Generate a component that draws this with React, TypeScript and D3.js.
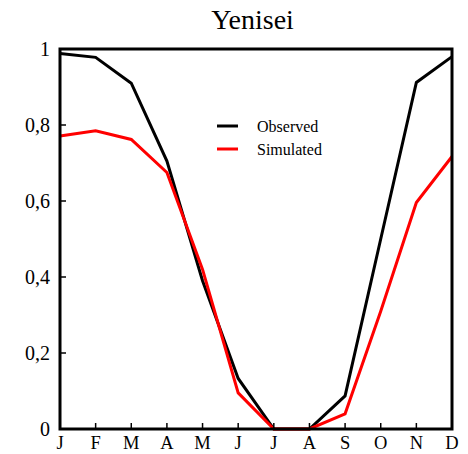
import React from "react";
import * as d3 from "d3";

const months = ["J", "F", "M", "A", "M", "J", "J", "A", "S", "O", "N", "D"];
const observed = [0.988, 0.978, 0.91, 0.705, 0.39, 0.133, 0, 0, 0.087, 0.5, 0.912, 0.98];
const simulated = [0.771, 0.785, 0.762, 0.675, 0.42, 0.095, 0, 0, 0.04, 0.31, 0.596, 0.717];
const yTicks = [0, 0.2, 0.4, 0.6, 0.8, 1];
const yTickLabels = ["0", "0,2", "0,4", "0,6", "0,8", "1"];
const title = "Yenisei";
const seriesNames = ["Observed", "Simulated"];
const seriesColors = ["#000000", "#ff0000"];

export default function App() {
  const W = 468, H = 454;
  const left = 60, right = 452, top = 49, bottom = 429;
  const x = d3.scaleLinear().domain([0, 11]).range([left, right]);
  const y = d3.scaleLinear().domain([0, 1]).range([bottom, top]);
  const line = d3.line<number>().x((_, i) => x(i)).y((d) => y(d));
  const font = "Liberation Serif, Times New Roman, Times, serif";
  const series = [observed, simulated];

  return (
    <svg width={W} height={H} style={{ position: "absolute", left: 0, top: 0, background: "#fff", fontFamily: font }}>
      <rect x={0} y={0} width={W} height={H} fill="#fff" />
      <text x={252.5} y={29} textAnchor="middle" style={{ fontFamily: font }} fontSize={28} fill="#000">
        {title}
      </text>
      {series.map((s, k) => (
        <path key={k} d={line(s) || ""} fill="none" stroke={seriesColors[k]} strokeWidth={3} strokeLinejoin="miter" />
      ))}
      {months.map((m, i) => (
        <g key={i}>
          {i > 0 && i < 11 && (
            <line x1={x(i)} x2={x(i)} y1={bottom} y2={bottom - 6} stroke="#000" strokeWidth={1.5} />
          )}
          <text x={x(i)} y={449} textAnchor="middle" style={{ fontFamily: font }} fontSize={18.5} fill="#000">
            {m}
          </text>
        </g>
      ))}
      {yTicks.map((t, i) => (
        <g key={i}>
          {i > 0 && i < yTicks.length - 1 && (
            <line x1={left} x2={left + 6} y1={y(t)} y2={y(t)} stroke="#000" strokeWidth={1.5} />
          )}
          <text x={50} y={y(t)} dy="0.35em" textAnchor="end" style={{ fontFamily: font }} fontSize={20} fill="#000">
            {yTickLabels[i]}
          </text>
        </g>
      ))}
      <rect x={left} y={top} width={right - left} height={bottom - top} fill="none" stroke="#000" strokeWidth={3} />
      {seriesNames.map((n, k) => (
        <g key={n}>
          <line x1={217} x2={238} y1={126 + k * 23} y2={126 + k * 23} stroke={seriesColors[k]} strokeWidth={3} />
          <text x={257} y={126 + k * 23} dy="0.35em" style={{ fontFamily: font }} fontSize={16} fill="#000">
            {n}
          </text>
        </g>
      ))}
    </svg>
  );
}
